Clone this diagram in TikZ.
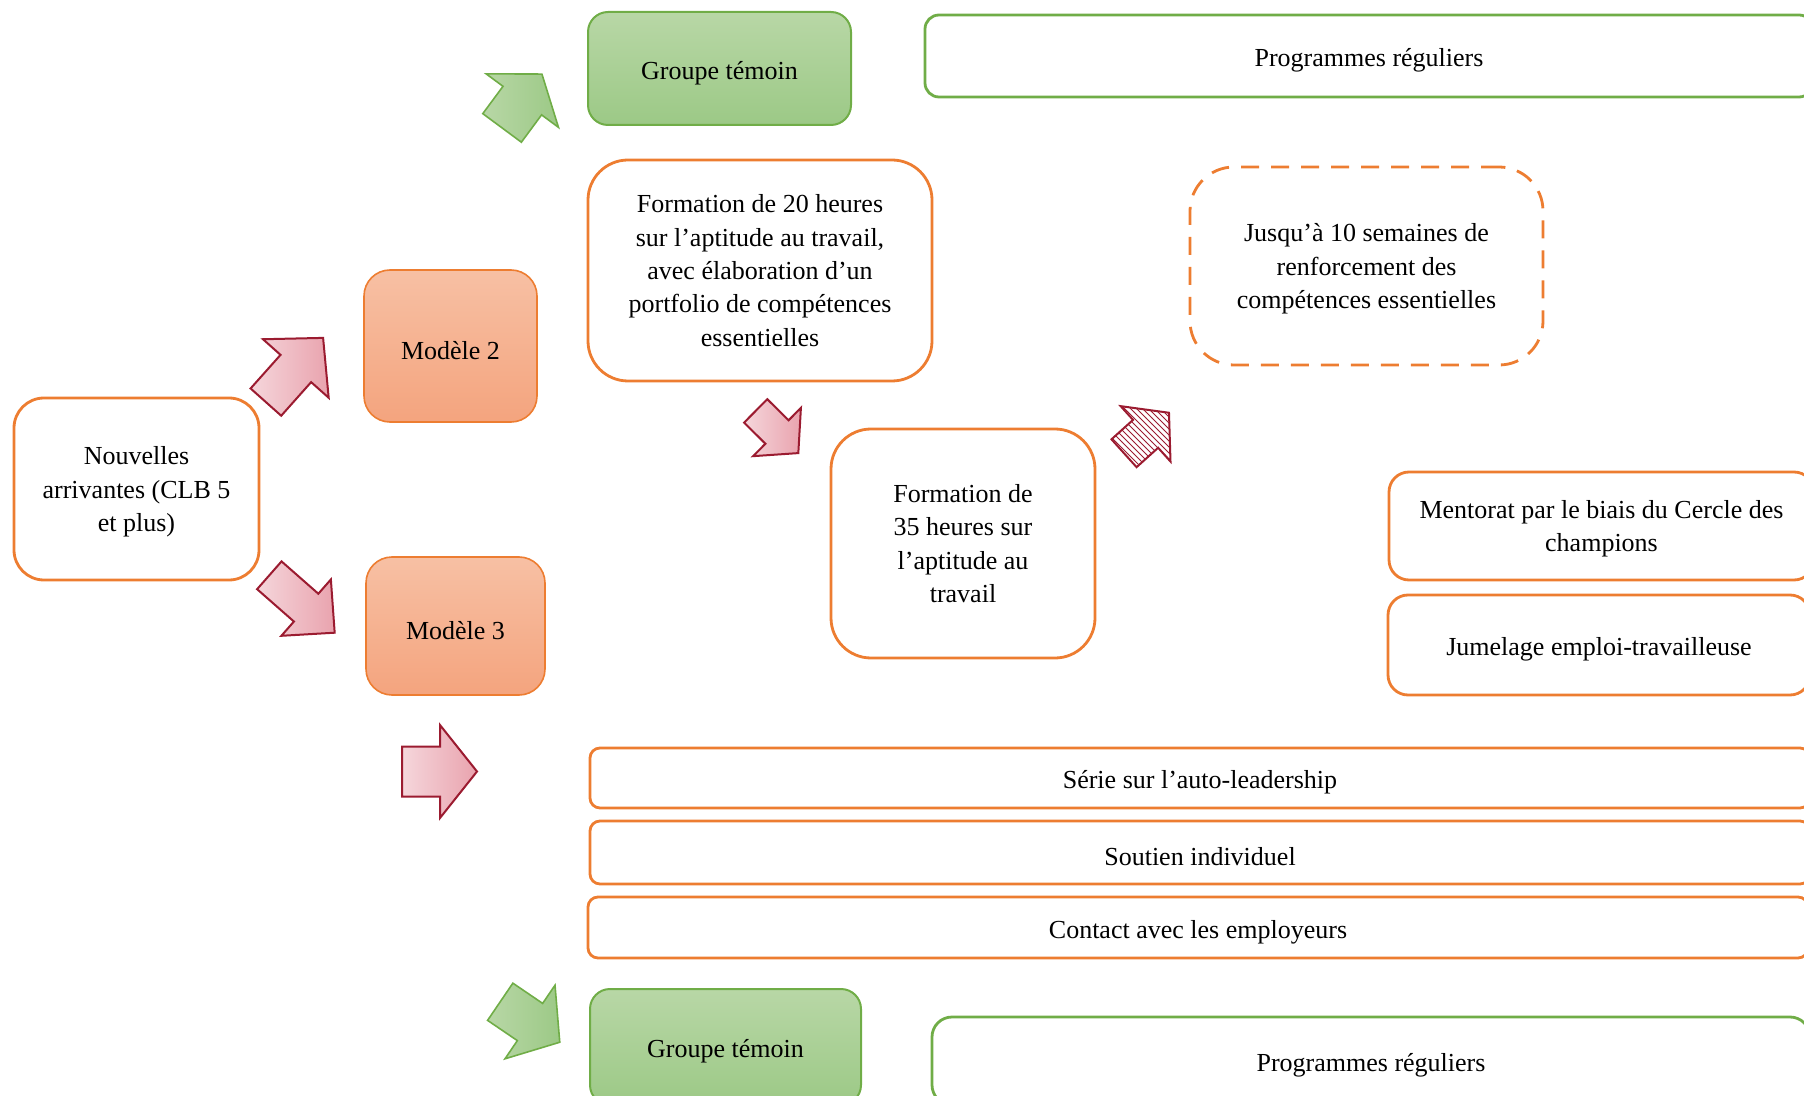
\documentclass[tikz,border=0pt]{standalone}
\usepackage{fontspec}
\setmainfont{Liberation Serif}
\usetikzlibrary{patterns}

\definecolor{orangeline}{RGB}{237,125,49}
\definecolor{greenline}{RGB}{112,173,71}
\definecolor{greentop}{RGB}{184,215,166}
\definecolor{greenbot}{RGB}{156,201,134}
\definecolor{modeltop}{RGB}{247,192,164}
\definecolor{modelbot}{RGB}{244,164,126}
\definecolor{arrowline}{RGB}{155,27,48}
\definecolor{arrowlight}{RGB}{245,214,219}
\definecolor{arrowdark}{RGB}{233,163,174}

\tikzset{
  pics/blockarrow/.style n args={4}{code={%
    \path[pic actions] (-#1/2,-#2/2) -- (#1/2-#4,-#2/2) -- (#1/2-#4,-#3/2) -- (#1/2,0)
      -- (#1/2-#4,#3/2) -- (#1/2-#4,#2/2) -- (-#1/2,#2/2) -- cycle;
  }}
}

\begin{document}
\begin{tikzpicture}[x=0.5pt, y=-0.5pt,
    every node/.style={font=\fontsize{13}{16.7}\selectfont, align=center, inner sep=0pt},
    oneline/.style={text height=13.5pt},
    lines/.style={text depth=-3.2pt},
    box/.style={draw=orangeline, line width=1.4pt, fill=white},
    greenbox/.style={oneline, draw=greenline, line width=1pt, top color=greentop, bottom color=greenbot, rounded corners=10pt},
    modelbox/.style={oneline, draw=orangeline, line width=0.8pt, top color=modeltop, bottom color=modelbot, rounded corners=13pt},
    rowbox/.style={box, oneline, rounded corners=5pt},
    pinkarrow/.style={draw=arrowline, line width=1pt, left color=arrowlight, right color=arrowdark, line join=miter},
    greenarrow/.style={draw=greenline, line width=0.8pt, left color=greentop, right color=greenbot, line join=miter},
    hatcharrow/.style={draw=arrowline, line width=1pt, pattern=north west lines, pattern color=arrowline, line join=miter}]
    \useasboundingbox (0,0) rectangle (1804,1096);

    % left side
    \node[box, lines, rounded corners=15pt, minimum width=122.5pt, minimum height=91pt] (nouvelles) at (136.5,489) {Nouvelles\\arrivantes (CLB 5\\et plus)};
    \node[modelbox, minimum width=86.5pt, minimum height=76pt] (modele2) at (450.5,346) {Modèle 2};
    \node[modelbox, minimum width=89.5pt, minimum height=69pt] (modele3) at (455.5,626) {Modèle 3};

    % top branch
    \node[greenbox, minimum width=131.5pt, minimum height=56.5pt] (temoin1) at (719.5,68.5) {Groupe témoin};
    \node[box, oneline, draw=greenline, rounded corners=7pt, minimum width=444pt, minimum height=41pt] (regulier1) at (1369,56) {Programmes réguliers};

    % modele 2
    \node[box, lines, rounded corners=20pt, minimum width=172pt, minimum height=110.5pt] (form20) at (760,270.5) {Formation de 20 heures\\sur l’aptitude au travail,\\avec élaboration d’un\\portfolio de compétences\\essentielles};
    \node[box, lines, rounded corners=20pt, minimum width=132pt, minimum height=114.5pt] (form35) at (963,543.5) {Formation de\\35 heures sur\\l’aptitude au\\travail};
    \node[box, lines, dash pattern=on 9pt off 6pt, rounded corners=22pt, minimum width=176.5pt, minimum height=99pt] (renfort) at (1366.5,266) {Jusqu’à 10 semaines de\\renforcement des\\compétences essentielles};
    \node[box, lines, rounded corners=10pt, minimum width=212.5pt, minimum height=54pt] (mentorat) at (1601.5,526) {Mentorat par le biais du Cercle des\\champions};
    \node[box, oneline, rounded corners=10pt, minimum width=211pt, minimum height=50pt] (jumelage) at (1599,645) {Jumelage emploi-travailleuse};

    % modele 3
    \node[rowbox, minimum width=610pt, minimum height=30pt] (serie) at (1200,778) {Série sur l’auto-leadership};
    \node[rowbox, minimum width=610pt, minimum height=31.5pt] (soutien) at (1200,852.5) {Soutien individuel};
    \node[rowbox, minimum width=610pt, minimum height=30.5pt] (contact) at (1198,927.5) {Contact avec les employeurs};

    % bottom branch
    \node[greenbox, minimum width=135.5pt, minimum height=58pt] (temoin2) at (725.5,1047) {Groupe témoin};
    \node[box, oneline, draw=greenline, rounded corners=10pt, minimum width=439pt, minimum height=44pt] (regulier2) at (1371,1061) {Programmes réguliers};

    % block arrows
    \pic[greenarrow, rotate=53.5] (fleche1) at (522,101) {blockarrow={67}{48}{90}{33}};
    \pic[pinkarrow, rotate=48.3] (fleche2) at (294.5,370) {blockarrow={86}{41}{88}{41}};
    \pic[pinkarrow, rotate=-41.3] (fleche3) at (302,604) {blockarrow={87}{37}{75}{38}};
    \pic[pinkarrow] (fleche4) at (439.5,771.5) {blockarrow={75}{50}{93}{37}};
    \pic[greenarrow, rotate=-34.2] (fleche5) at (530,1022) {blockarrow={72}{45}{89}{36}};
    \pic[pinkarrow, rotate=-44.7] (fleche6) at (777,432) {blockarrow={60}{33}{68}{30}};
    \pic[hatcharrow, rotate=42] (fleche7) at (1146.5,433) {blockarrow={60.5}{37.5}{74.5}{31.5}};
\end{tikzpicture}
\end{document}
